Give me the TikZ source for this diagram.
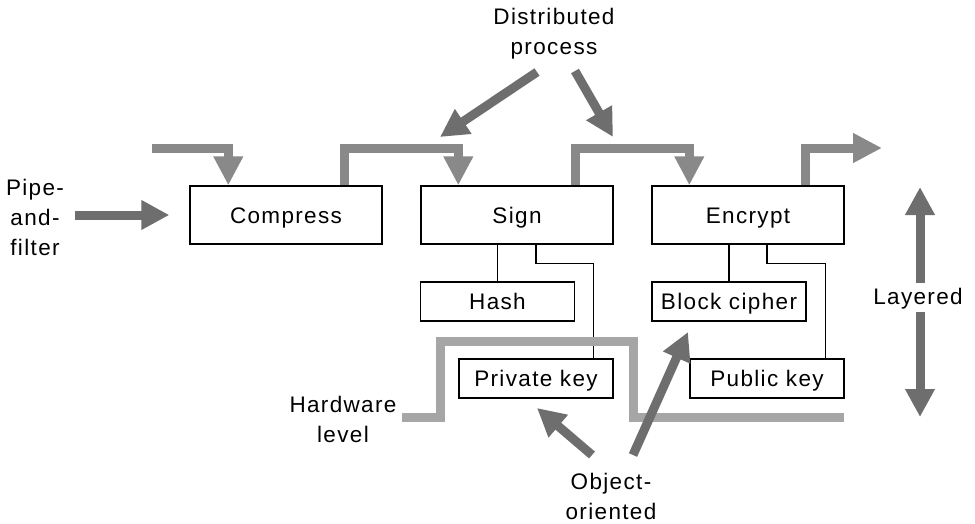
\documentclass[tikz,border=0pt]{standalone}
\usepackage{fontspec}
\setmainfont{Liberation Sans}[LetterSpace=6]
\usetikzlibrary{arrows.meta,calc}
\definecolor{flowgray}{HTML}{898989}
\definecolor{darkarrow}{HTML}{6E6E6E}
\definecolor{hwgray}{HTML}{A6A6A6}
\begin{document}
\begin{tikzpicture}[x=1pt,y=-1pt,
  font=\fontsize{22.5}{30}\selectfont,
  box/.style={draw, line width=1.4pt, inner sep=0pt, text height=16pt, text depth=0pt, minimum width=192pt, minimum height=58pt},
  sbox/.style={draw, line width=1.4pt, inner sep=0pt, text height=16pt, text depth=0pt, minimum width=154pt, minimum height=39pt},
  wire/.style={line width=1.4pt},
  flow/.style={draw=flowgray, line width=9pt, line join=miter, -{Triangle[length=29pt,width=28pt]}},
  bigarrow/.style={draw=darkarrow, line width=9pt, -{Triangle[length=28pt,width=28pt]}},
  hwline/.style={draw=hwgray, line width=9pt, line join=miter},
  lbl/.style={align=center, inner sep=0pt}]
\useasboundingbox (0,0) rectangle (975,523);

% boxes
\node[box] (Compress) at (286,215) {Compress};
\node[box] (Sign) at (517,215) {Sign};
\node[box] (Encrypt) at (748,215) {Encrypt};
\node[sbox] (Hash) at (497.5,301.5) {Hash};
\node[sbox] (Block) at (729,301.5) {Block cipher};
\node[sbox] (Priv) at (536,378.5) {Private key};
\node[sbox] (Pub) at (767,378.5) {Public key};

% labels
\node[lbl] (dist) at (554,34) {Distributed\\process};
\node[lbl] (pipe) at (35,217) {Pipe-\\and-\\filter};
\node[lbl] (layered) at (918,299) {Layered};
\node[lbl] (hw) at (343,419) {Hardware\\level};
\node[lbl] (oo) at (611,496) {Object-\\oriented};

% thin connectors
\draw[wire] (Hash.north) -- (Hash.north |- Sign.south);
\draw[wire] (Sign.south -| Priv.north) -- ++(0,19) -| ($(Priv.north east)+(-20,0)$);
\draw[wire] (Block.north) -- (Block.north |- Encrypt.south);
\draw[wire] (Encrypt.south -| Pub.north) -- ++(0,19) -| ($(Pub.north east)+(-19,0)$);

% hardware level boundary
\draw[hwline] (402,417) -- (440,417) -- (440,341) -- (633,341) -- (633,417) -- (844,417);

% flow arrows (pipe and filter)
\coordinate (busy) at (0,148);
\coordinate (inStart) at (152,148);
\coordinate (c1) at ($(Compress.north west)+(39,0)$);
\coordinate (c2) at ($(Compress.north east)+(-38,0)$);
\coordinate (s1) at ($(Sign.north west)+(38,0)$);
\coordinate (s2) at ($(Sign.north east)+(-38,0)$);
\coordinate (e1) at ($(Encrypt.north west)+(38,0)$);
\coordinate (e2) at ($(Encrypt.north east)+(-39,0)$);
\coordinate (outEnd) at (882,148);
\draw[flow] (inStart) -| (c1);
\draw[flow] (c2) -- (c2 |- busy) -| (s1);
\draw[flow] (s2) -- (s2 |- busy) -| (e1);
\draw[flow] (e2) |- (outEnd);

% style arrows
\coordinate (pipeStart) at (75,215);
\coordinate (pipeEnd) at ($(Compress.west)+(-20,0)$);
\draw[bigarrow] (pipeStart) -- (pipeEnd);

\coordinate (dA) at (537,72);
\coordinate (dAt) at (440,137);
\coordinate (dB) at (575,71);
\coordinate (dBt) at (613,137);
\draw[bigarrow] (dA) -- (dAt);
\draw[bigarrow] (dB) -- (dBt);

\coordinate (lU) at (920,283);
\coordinate (lUt) at (920,187);
\coordinate (lD) at (920,312);
\coordinate (lDt) at (920,417);
\draw[bigarrow] (lU) -- (lUt);
\draw[bigarrow] (lD) -- (lDt);

\coordinate (oA) at (592,455);
\coordinate (oAt) at (537,408);
\coordinate (oB) at (633,455);
\coordinate (oBt) at (688,332);
\draw[bigarrow] (oA) -- (oAt);
\draw[bigarrow] (oB) -- (oBt);
\end{tikzpicture}
\end{document}
